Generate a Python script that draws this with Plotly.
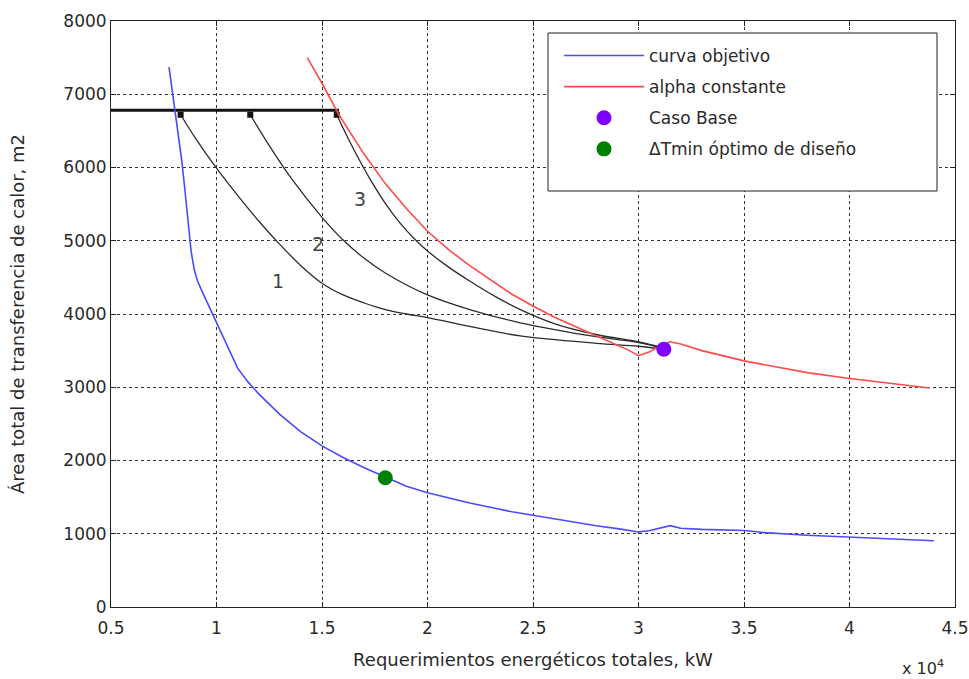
import plotly.graph_objects as go

# x values in units of 10^4 kW, y in m2
blue_x = [0.775, 0.79, 0.805, 0.82, 0.835, 0.85, 0.865, 0.88, 0.895, 0.91, 0.93, 0.96, 1.00,
          1.05, 1.10, 1.15, 1.20, 1.30, 1.40, 1.50, 1.60, 1.70, 1.80, 1.90, 2.00, 2.20, 2.40,
          2.60, 2.80, 2.90, 2.95, 3.00, 3.05, 3.10, 3.15, 3.20, 3.30, 3.50, 3.60, 3.80, 4.00,
          4.20, 4.40]
blue_y = [7370, 7050, 6730, 6420, 6100, 5700, 5220, 4850, 4600, 4450, 4320, 4130, 3880,
          3560, 3260, 3070, 2910, 2630, 2390, 2200, 2040, 1900, 1770, 1650, 1560, 1420, 1300,
          1200, 1110, 1070, 1045, 1025, 1040, 1070, 1110, 1075, 1060, 1045, 1015, 980, 955,
          930, 905]

red_x = [1.43, 1.50, 1.58, 1.65, 1.70, 1.80, 1.90, 2.00, 2.10, 2.20, 2.30, 2.40, 2.50, 2.60,
         2.70, 2.80, 2.90, 2.95, 3.00, 3.05, 3.10, 3.15, 3.20, 3.30, 3.50, 3.80, 4.00, 4.20, 4.38]
red_y = [7500, 7150, 6720, 6400, 6180, 5780, 5440, 5130, 4880, 4660, 4460, 4270, 4110, 3960,
         3830, 3700, 3580, 3510, 3430, 3480, 3560, 3620, 3590, 3500, 3360, 3200, 3120, 3050, 2990]

c1_x = [0.83, 0.90, 1.00, 1.10, 1.20, 1.30, 1.40, 1.50, 1.60, 1.70, 1.80, 1.90, 2.00, 2.20,
        2.44, 2.80, 3.00, 3.12]
c1_y = [6720, 6400, 5990, 5620, 5270, 4950, 4660, 4420, 4260, 4150, 4060, 4000, 3950, 3830,
        3700, 3600, 3560, 3520]

c2_x = [1.16, 1.25, 1.36, 1.50, 1.60, 1.70, 1.80, 2.00, 2.20, 2.44, 2.80, 3.00, 3.12]
c2_y = [6720, 6300, 5830, 5320, 5010, 4760, 4560, 4260, 4060, 3880, 3690, 3610, 3530]

c3_x = [1.57, 1.62, 1.67, 1.73, 1.80, 1.87, 1.94, 2.00, 2.10, 2.20, 2.32, 2.44, 2.60, 2.80,
        3.00, 3.12]
c3_y = [6720, 6420, 6140, 5830, 5510, 5240, 5020, 4860, 4640, 4450, 4240, 4060, 3870, 3720,
        3620, 3540]

hline_x = [0.5, 1.58]
hline_y = [6780, 6780]

start_x = [0.83, 1.16, 1.57]
start_y = [6720, 6720, 6720]

base_x = [3.12]
base_y = [3520]
opt_x = [1.80]
opt_y = [1765]

label_x = [1.29, 1.48, 1.68]
label_y = [4450, 4960, 5570]
label_txt = ["1", "2", "3"]

FONT = "DejaVu Sans, Liberation Sans, Arial, sans-serif"
TXT = "#2a2a2a"

fig = go.Figure()
dark = "#2b2b2b"
for cx, cy in [(c1_x, c1_y), (c2_x, c2_y), (c3_x, c3_y)]:
    fig.add_trace(go.Scatter(x=cx, y=cy, mode="lines", line=dict(color=dark, width=1.3),
                             line_shape="spline", showlegend=False, hoverinfo="skip"))
fig.add_trace(go.Scatter(x=hline_x, y=hline_y, mode="lines", line=dict(color="#111111", width=3),
                         showlegend=False))
fig.add_trace(go.Scatter(x=start_x, y=start_y, mode="markers",
                         marker=dict(symbol="square", size=6, color="#111111"), showlegend=False))
fig.add_trace(go.Scatter(x=blue_x, y=blue_y, mode="lines", name="curva objetivo",
                         line=dict(color="#4a4aff", width=1.6), legendgroup="a"))
fig.add_trace(go.Scatter(x=red_x, y=red_y, mode="lines", name="alpha constante",
                         line=dict(color="#ff4a4a", width=1.6), legendgroup="b"))
fig.add_trace(go.Scatter(x=base_x, y=base_y, mode="markers", name="Caso Base",
                         marker=dict(color="#8000ff", size=15), legendgroup="c"))
fig.add_trace(go.Scatter(x=opt_x, y=opt_y, mode="markers", name="ΔTmin óptimo de diseño",
                         marker=dict(color="#008000", size=15), legendgroup="d"))

for lx, ly, lt in zip(label_x, label_y, label_txt):
    fig.add_annotation(x=lx, y=ly, text=lt, showarrow=False,
                       font=dict(family=FONT, size=19, color="#444444"))

fig.add_annotation(xref="paper", yref="paper", x=(946 - 111) / 844, y=(607 - 667) / 586,
                   xanchor="right", yanchor="middle",
                   text="x 10<sup>4</sup>", showarrow=False,
                   font=dict(family=FONT, size=16, color=TXT))

# legend box
fig.add_shape(type="rect", xref="paper", yref="paper",
              x0=(548 - 111) / 844, x1=(937 - 111) / 844,
              y0=(607 - 191) / 586, y1=(607 - 33) / 586,
              fillcolor="white", line=dict(color="#222222", width=1), layer="above")

axis_common = dict(showline=True, linecolor="#222222", linewidth=1, mirror="allticks",
                   ticks="inside", ticklen=5, tickcolor="#222222", automargin=False,
                   showgrid=True, gridcolor="#333333", gridwidth=1, griddash="dot",
                   zeroline=False, tickfont=dict(family=FONT, size=17, color=TXT))

fig.update_xaxes(range=[0.5, 4.5], tickvals=[0.5, 1, 1.5, 2, 2.5, 3, 3.5, 4, 4.5],
                 ticktext=["0.5", "1", "1.5", "2", "2.5", "3", "3.5", "4", "4.5"],
                 ticklabelstandoff=6,
                 title=dict(text="Requerimientos energéticos totales, kW", standoff=15,
                            font=dict(family=FONT, size=18, color=TXT)),
                 **axis_common)
fig.update_yaxes(range=[0, 8000], tickvals=[0, 1000, 2000, 3000, 4000, 5000, 6000, 7000, 8000],
                 title=dict(text="Área total de transferencia de calor, m2", standoff=34,
                            font=dict(family=FONT, size=18, color=TXT)),
                 **axis_common)

fig.update_layout(
    width=969, height=679,
    margin=dict(l=111, r=14, t=21, b=72),
    paper_bgcolor="white", plot_bgcolor="white",
    showlegend=True,
    legend=dict(x=(559 - 111) / 844, y=(607 - 38) / 586, xanchor="left", yanchor="top",
                bgcolor="rgba(0,0,0,0)", borderwidth=0, itemwidth=80, tracegroupgap=6,
                font=dict(family=FONT, size=17, color=TXT)),
)

# remove the default page margin so the 969x679 figure fills the window exactly
fig.write_html("out.html", config={"displayModeBar": False},
               post_script="document.body.style.margin='0';document.body.style.overflow='hidden';")
